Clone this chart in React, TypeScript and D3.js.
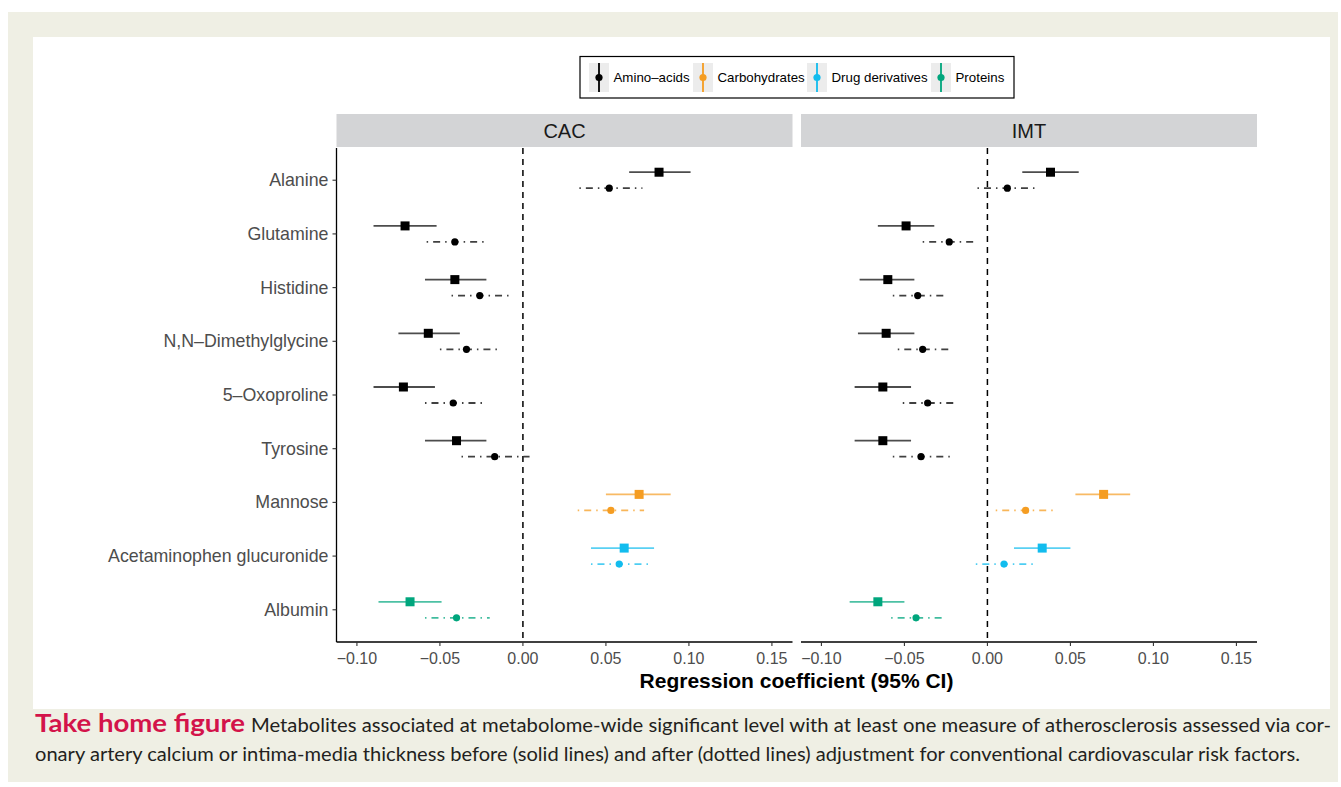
import * as d3 from 'd3'
import React from 'react'

// metabolites (top to bottom) and their class
const metabolites = ['Alanine', 'Glutamine', 'Histidine', 'N,N\u2013Dimethylglycine', '5\u2013Oxoproline', 'Tyrosine', 'Mannose', 'Acetaminophen glucuronide', 'Albumin']
const metaboliteClass = ['Amino\u2013acids', 'Amino\u2013acids', 'Amino\u2013acids', 'Amino\u2013acids', 'Amino\u2013acids', 'Amino\u2013acids', 'Carbohydrates', 'Drug derivatives', 'Proteins']
const classNames = ['Amino\u2013acids', 'Carbohydrates', 'Drug derivatives', 'Proteins']
const classColors = ['#000000', '#F59D22', '#12BCEE', '#00A67D']

// CAC, before adjustment (solid)
const cacEst = [0.082, -0.071, -0.041, -0.057, -0.072, -0.040, 0.070, 0.061, -0.068]
const cacLo = [0.064, -0.090, -0.059, -0.075, -0.090, -0.059, 0.050, 0.041, -0.087]
const cacHi = [0.101, -0.052, -0.022, -0.038, -0.053, -0.022, 0.089, 0.079, -0.049]
// CAC, after adjustment (dot-dash)
const cacAdjEst = [0.052, -0.041, -0.026, -0.034, -0.042, -0.017, 0.053, 0.058, -0.040]
const cacAdjLo = [0.034, -0.058, -0.043, -0.050, -0.059, -0.037, 0.033, 0.041, -0.059]
const cacAdjHi = [0.072, -0.022, -0.008, -0.015, -0.023, 0.004, 0.073, 0.077, -0.020]
// IMT, before adjustment
const imtEst = [0.038, -0.049, -0.060, -0.061, -0.063, -0.063, 0.070, 0.033, -0.066]
const imtLo = [0.021, -0.066, -0.077, -0.078, -0.080, -0.080, 0.053, 0.016, -0.083]
const imtHi = [0.055, -0.032, -0.044, -0.044, -0.046, -0.046, 0.086, 0.050, -0.050]
// IMT, after adjustment
const imtAdjEst = [0.012, -0.023, -0.042, -0.039, -0.036, -0.040, 0.023, 0.010, -0.043]
const imtAdjLo = [-0.006, -0.039, -0.057, -0.054, -0.051, -0.057, 0.005, -0.007, -0.058]
const imtAdjHi = [0.030, -0.006, -0.024, -0.022, -0.019, -0.021, 0.041, 0.028, -0.026]

const xTicks = [-0.1, -0.05, 0, 0.05, 0.1, 0.15]

const panels = [
  { name: 'CAC', left: 336.5, est: cacEst, lo: cacLo, hi: cacHi, aEst: cacAdjEst, aLo: cacAdjLo, aHi: cacAdjHi },
  { name: 'IMT', left: 801, est: imtEst, lo: imtLo, hi: imtHi, aEst: imtAdjEst, aLo: imtAdjLo, aHi: imtAdjHi },
]

const panelW = 456
const top = 148
const bottom = 642
const axisFont = '"Liberation Sans", Arial, sans-serif'

const color = d3.scaleOrdinal<string, string>().domain(classNames).range(classColors)
const y = d3.scalePoint<string>().domain(metabolites).range([top, bottom]).padding(0.6)
const fmt = d3.format('.2f')
const tickLabel = (v: number) => fmt(v).replace('-', '\u2212')

function Panel({ p, first }: { p: typeof panels[0], first: boolean }) {
  const x = d3.scaleLinear().domain([-0.1123, 0.1624]).range([p.left, p.left + panelW])
  return (
    <g>
      <rect x={p.left} y={114} width={panelW} height={33} fill="#d3d4d6" />
      <text x={p.left + panelW / 2} y={131} textAnchor="middle" dominantBaseline="central"
        fontFamily={axisFont} fontSize={20} fill="#1a1a1a">{p.name}</text>

      <line x1={x(0)} x2={x(0)} y1={top} y2={bottom} stroke="#000" strokeWidth={1.5} strokeDasharray="6,5" />

      {metabolites.map((m, i) => {
        const c = color(metaboliteClass[i])
        const yy = y(m)!
        return (
          <g key={m}>
            <line x1={x(p.lo[i])} x2={x(p.hi[i])} y1={yy - 8} y2={yy - 8} stroke={c} strokeOpacity={0.7} strokeWidth={1.8} />
            <rect x={x(p.est[i]) - 4.5} y={yy - 12.5} width={9} height={9} fill={c} />
            <line x1={x(p.aLo[i])} x2={x(p.aHi[i])} y1={yy + 8} y2={yy + 8} stroke={c} strokeOpacity={0.75} strokeWidth={1.8} strokeDasharray="1.5,5,7,5" />
            <circle cx={x(p.aEst[i])} cy={yy + 8} r={3.6} fill={c} />
          </g>
        )
      })}

      <line x1={p.left} x2={p.left + panelW} y1={bottom} y2={bottom} stroke="#000" strokeWidth={1.3} />
      {xTicks.map(t => (
        <g key={t}>
          <line x1={x(t)} x2={x(t)} y1={bottom} y2={bottom + 4} stroke="#333" strokeWidth={1.1} />
          <text x={x(t)} y={658} textAnchor="middle" dominantBaseline="central"
            fontFamily={axisFont} fontSize={16} fill="#4d4d4d">{tickLabel(t)}</text>
        </g>
      ))}

      {first && (
        <g>
          <line x1={p.left} x2={p.left} y1={top} y2={bottom} stroke="#000" strokeWidth={1.3} />
          {metabolites.map(m => (
            <g key={m}>
              <line x1={p.left - 4} x2={p.left} y1={y(m)} y2={y(m)} stroke="#333" strokeWidth={1.1} />
              <text x={p.left - 8} y={y(m)} textAnchor="end" dominantBaseline="central"
                fontFamily={axisFont} fontSize={17.8} fill="#4d4d4d">{m}</text>
            </g>
          ))}
        </g>
      )}
    </g>
  )
}

function Legend() {
  const keyX = [589, 693, 807, 931]
  return (
    <g fontFamily={axisFont}>
      <rect x={580} y={56.5} width={434} height={41.5} fill="#fff" stroke="#000" strokeWidth={1.2} />
      {classNames.map((c, i) => (
        <g key={c}>
          <rect x={keyX[i]} y={63} width={20} height={29} fill="#ececec" />
          <line x1={keyX[i] + 10} x2={keyX[i] + 10} y1={63} y2={92} stroke={classColors[i]} strokeWidth={1.8} />
          <circle cx={keyX[i] + 10} cy={77.5} r={3.6} fill={classColors[i]} />
          <text x={keyX[i] + 24.5} y={77.5} dominantBaseline="central" fontSize={13.3} fill="#000">{c}</text>
        </g>
      ))}
    </g>
  )
}

export default function App() {
  return (
    <svg width={1341} height={787} style={{ position: 'absolute', left: 0, top: 0 }}>
      <rect x={0} y={0} width={1341} height={787} fill="#fff" />
      <rect x={8} y={12} width={1330} height={770} fill="#efefe4" />
      <rect x={33} y={37} width={1297} height={672} fill="#fff" />

      <Legend />
      {panels.map((p, i) => <Panel key={p.name} p={p} first={i === 0} />)}

      <text x={796.5} y={680} textAnchor="middle" dominantBaseline="central"
        fontFamily={axisFont} fontSize={21} fontWeight="bold" fill="#000">Regression coefficient (95% CI)</text>

      <g fontFamily="Lato, 'Open Sans', sans-serif">
        <text x={35} y={732} fontSize={24} fontWeight="bold" fill="#d3134a" textLength={210} lengthAdjust="spacingAndGlyphs">Take home figure</text>
        <text x={251} y={732} fontSize={19.5} fill="#231f20" textLength={1080} lengthAdjust="spacingAndGlyphs">Metabolites associated at metabolome-wide significant level with at least one measure of atherosclerosis assessed via cor-</text>
        <text x={35} y={761} fontSize={19.5} fill="#231f20" textLength={1265} lengthAdjust="spacingAndGlyphs">onary artery calcium or intima-media thickness before (solid lines) and after (dotted lines) adjustment for conventional cardiovascular risk factors.</text>
      </g>
    </svg>
  )
}
